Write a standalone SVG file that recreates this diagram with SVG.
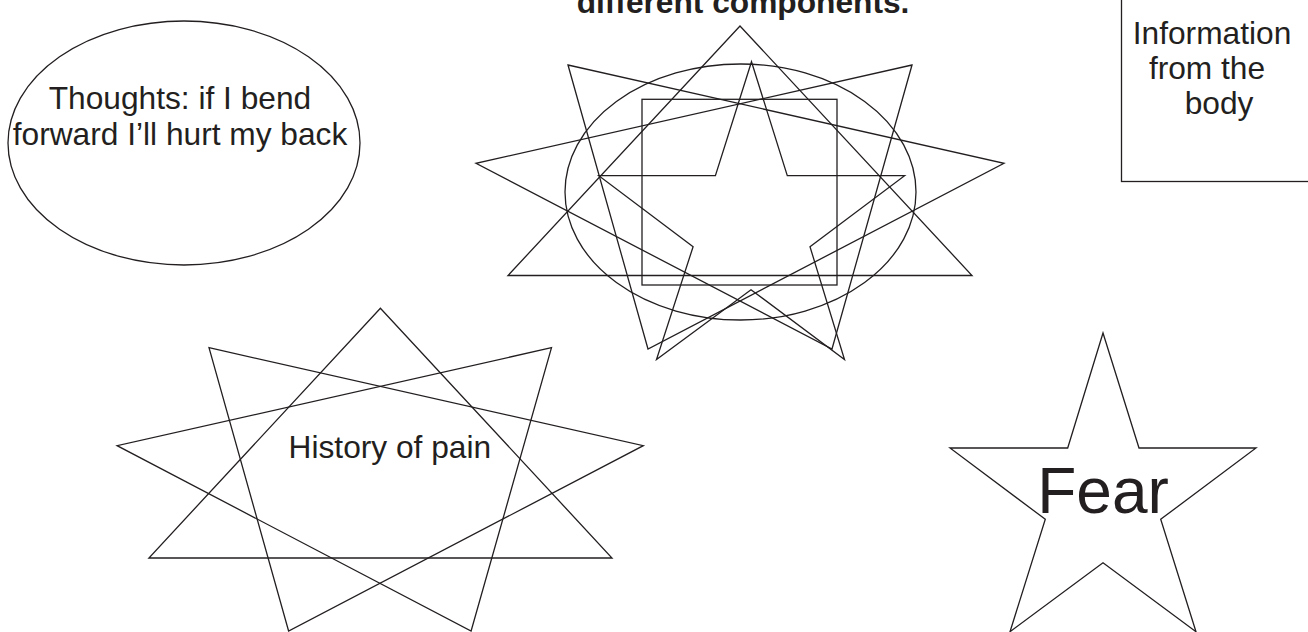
<svg xmlns="http://www.w3.org/2000/svg" width="1308" height="632" viewBox="0 0 1308 632">
<style>
.sh{fill:none;stroke:#231f20;stroke-width:1.3;stroke-linejoin:miter}
.t{font-family:"Liberation Sans",Arial,sans-serif;font-size:31.7px;fill:#231f20}
.b{font-weight:bold}
</style>
<rect width="1308" height="632" fill="#fff"/>
<g id="title">
<text class="t b" x="743" y="13" text-anchor="middle">different components.</text>
</g>
<g id="thoughts">
<ellipse class="sh" cx="184" cy="143" rx="176" ry="122"/>
<text class="t" x="180" y="109" text-anchor="middle">Thoughts: if I bend</text>
<text class="t" x="180" y="145" text-anchor="middle">forward I’ll hurt my back</text>
</g>
<g id="combined">
<polygon class="sh" points="740,26 508,275.5 972,275.5"/>
<polygon class="sh" points="568,65 1004,163.3 648,349"/>
<polygon class="sh" points="912,65 476,163.3 832,349"/>
<ellipse class="sh" cx="740.5" cy="192" rx="175.5" ry="128"/>
<rect class="sh" x="642" y="99.3" width="195" height="185.7"/>
<polygon class="sh" points="751.5,61.7 787.3,175.7 904.6,175.7 810,246.7 844.5,359.5 751,289.7 656.5,359.5 693.1,246.7 598.8,175.7 715.4,175.7"/>
</g>
<g id="history">
<polygon class="sh" points="380.4,308.3 148.9,558 612,558"/>
<polygon class="sh" points="209,347.7 643.3,445.7 288.6,631"/>
<polygon class="sh" points="551.5,347.7 117.1,445.7 471.1,631"/>
<text class="t" x="288.6" y="458">History of pain</text>
</g>
<g id="fear">
<polygon class="sh" points="1103,333 1139,448 1256,448 1160.7,519.3 1196,631.7 1103,562.7 1010,631.7 1045.3,519.3 950,448 1067.7,448"/>
<text class="t" x="1103" y="513" text-anchor="middle" style="font-size:64px">Fear</text>
</g>
<g id="information">
<rect class="sh" x="1121.5" y="-10" width="200" height="191.5"/>
<text class="t" x="1212" y="44" text-anchor="middle">Information</text>
<text class="t" x="1207" y="79" text-anchor="middle">from the</text>
<text class="t" x="1219" y="114" text-anchor="middle">body</text>
</g>
<g id="connectors"/>
</svg>
